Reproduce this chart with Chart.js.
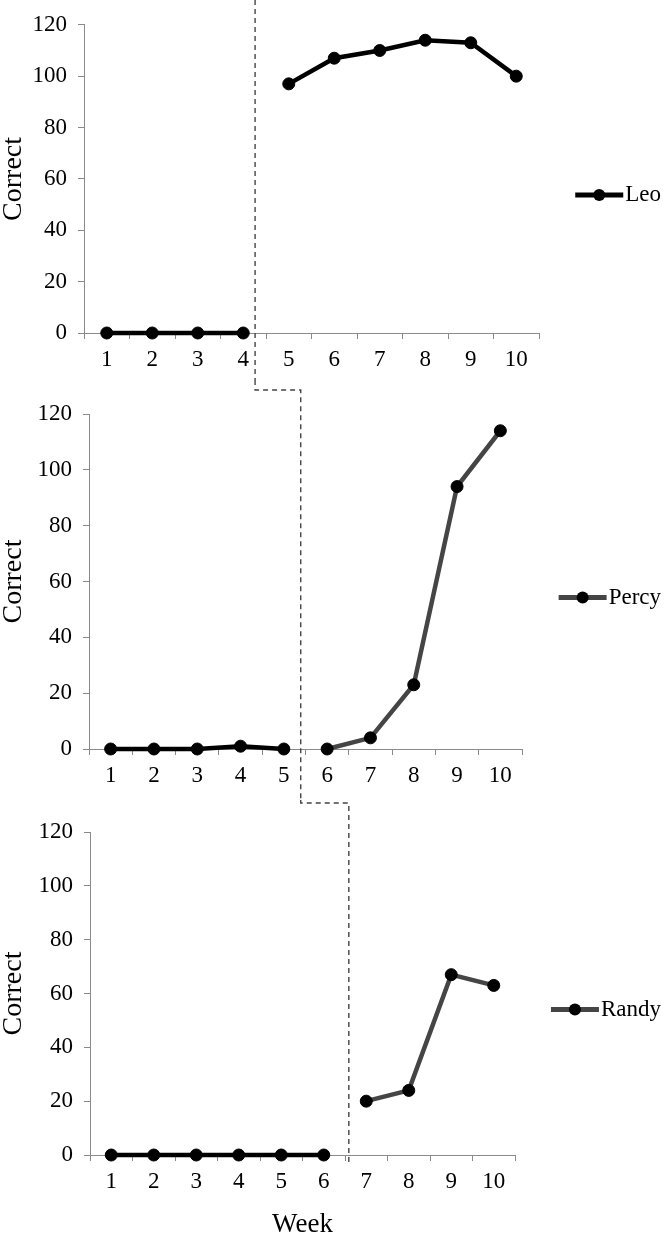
<!DOCTYPE html>
<html lang="en">
<head>
    <meta charset="UTF-8">
    <title>Correct per week - Leo, Percy, Randy</title>
    <style>
        body {
            margin: 0;
            background: #fff;
        }
        #wrap {
            position: relative;
            width: 664px;
            height: 1236px;
            overflow: hidden;
        }
        #wrap canvas {
            position: absolute;
            left: 0;
        }
    </style>
</head>
<body>
    <div id="wrap">
        <canvas id="leoChart" width="664" height="380" style="top:0px"></canvas>
        <canvas id="percyChart" width="664" height="420" style="top:380px"></canvas>
        <canvas id="randyChart" width="664" height="436" style="top:800px"></canvas>
    </div>

    <script src="https://cdn.jsdelivr.net/npm/chart.js"></script>
    <script>
        // data
        const weeks = ['1', '2', '3', '4', '5', '6', '7', '8', '9', '10'];
        const leoCorrect = [0, 0, 0, 0, 97, 107, 110, 114, 113, 100];
        const percyCorrect = [0, 0, 0, 1, 0, 0, 4, 23, 94, 114];
        const randyCorrect = [0, 0, 0, 0, 0, 0, 20, 24, 67, 63];
        const names = ['Leo', 'Percy', 'Randy'];
        const firstTreatmentWeek = [5, 6, 7];

        const serif = "'Liberation Serif', 'Times New Roman', serif";
        const axisGray = '#8a8a8a';
        const charts = [];

        // layout of each panel (pixels) + where the dashed phase line sits
        const panels = [
            { id: 'leoChart', values: leoCorrect, left: 84, top: 16, right: 125, axisH: 47, treatColor: '#000', phaseAt: 3.26, turnY: 0, endY: 380, title: false },
            { id: 'percyChart', values: percyCorrect, left: 89, top: 34, right: 142, axisH: 51, treatColor: '#454545', phaseAt: 4.39, turnY: 10, endY: 420, title: false },
            { id: 'randyChart', values: randyCorrect, left: 90, top: 32, right: 149, axisH: 81, treatColor: '#454545', phaseAt: 5.59, turnY: 3, endY: 365, title: true }
        ];

        // dashed phase-change line, stepping down from the panel above
        const phaseLine = {
            id: 'phaseLine',
            afterDraw(chart, args, opts) {
                const i = opts.index;
                const p = panels[i];
                const ctx = chart.ctx;
                const x = chart.scales.x.getPixelForValue(p.phaseAt);
                ctx.save();
                ctx.setLineDash([5, 4]);
                ctx.strokeStyle = '#444';
                ctx.lineWidth = 1.4;
                ctx.beginPath();
                if (i > 0) {
                    const prev = charts[i - 1];
                    const px = prev.scales.x.getPixelForValue(panels[i - 1].phaseAt);
                    ctx.moveTo(px, 0);
                    ctx.lineTo(px, p.turnY);
                    ctx.lineTo(x, p.turnY);
                } else {
                    ctx.moveTo(x, 0);
                }
                ctx.lineTo(x, p.endY);
                ctx.stroke();
                ctx.restore();
            }
        };

        // legend: line with a dot, right aligned like the original
        const sideLegend = {
            id: 'sideLegend',
            afterDraw(chart, args, opts) {
                const ctx = chart.ctx;
                const area = chart.chartArea;
                const cy = (area.top + area.bottom) / 2 + 16;
                ctx.save();
                ctx.font = '23px ' + serif;
                const tx = 661 - ctx.measureText(opts.name).width;
                ctx.strokeStyle = opts.color;
                ctx.lineWidth = 5;
                ctx.beginPath();
                ctx.moveTo(tx - 50, cy);
                ctx.lineTo(tx - 2, cy);
                ctx.stroke();
                ctx.fillStyle = '#000';
                ctx.beginPath();
                ctx.arc(tx - 26, cy, 6, 0, Math.PI * 2);
                ctx.fill();
                ctx.textBaseline = 'middle';
                ctx.fillText(opts.name, tx, cy);
                ctx.restore();
            }
        };

        panels.forEach(function (p, i) {
            const start = firstTreatmentWeek[i] - 1;
            const chart = new Chart(document.getElementById(p.id), {
                type: 'line',
                data: {
                    labels: weeks,
                    datasets: [{
                        label: names[i],
                        data: p.values,
                        clip: false,
                        borderWidth: 4.5,
                        borderColor: '#000',
                        pointRadius: 6,
                        pointBackgroundColor: '#000',
                        pointBorderColor: '#000',
                        pointBorderWidth: 1,
                        tension: 0,
                        segment: {
                            borderColor: function (c) {
                                if (c.p0DataIndex === start - 1) return 'rgba(0,0,0,0)';
                                return c.p0DataIndex >= start ? p.treatColor : '#000';
                            }
                        }
                    }]
                },
                options: {
                    responsive: false,
                    animation: false,
                    layout: { padding: { left: 0, top: p.top, right: p.right, bottom: 0 } },
                    plugins: {
                        legend: { display: false },
                        tooltip: { enabled: false },
                        phaseLine: { index: i },
                        sideLegend: { name: names[i], color: p.treatColor }
                    },
                    scales: {
                        x: {
                            offset: true,
                            grid: { offset: true, drawOnChartArea: false, tickLength: 6, color: axisGray },
                            border: { color: axisGray },
                            ticks: { color: '#000', font: { family: serif, size: 23 }, padding: 7, maxRotation: 0, autoSkip: false },
                            title: {
                                display: p.title,
                                text: 'Week',
                                color: '#000',
                                font: { family: serif, size: 27, lineHeight: 0.8 },
                                padding: 0
                            },
                            afterFit: function (s) { s.height = p.axisH; }
                        },
                        y: {
                            min: 0,
                            max: 120,
                            grid: { drawOnChartArea: false, tickLength: 6, color: axisGray },
                            border: { color: axisGray },
                            ticks: { stepSize: 20, color: '#000', font: { family: serif, size: 23 }, padding: 11 },
                            title: {
                                display: true,
                                text: 'Correct',
                                color: '#000',
                                font: { family: serif, size: 28, lineHeight: 1 },
                                padding: 0
                            },
                            afterFit: function (s) { s.width = p.left; }
                        }
                    }
                },
                plugins: [phaseLine, sideLegend]
            });
            charts.push(chart);
        });
    </script>
</body>
</html>
